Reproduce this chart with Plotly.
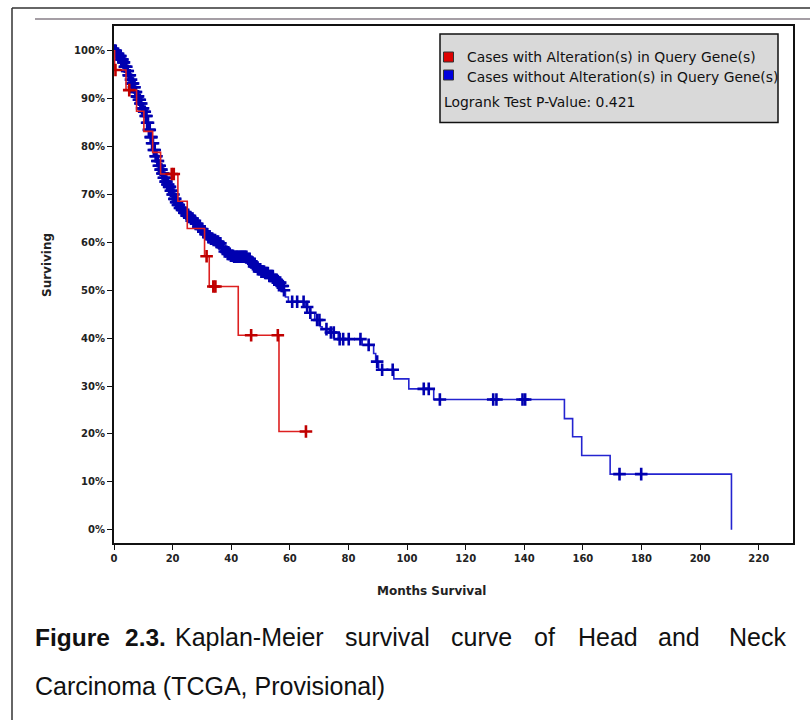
import plotly.graph_objects as go

# ---------------- data ----------------
# Cases with alteration(s): Kaplan-Meier step points (months, % surviving)
alt_times = [0.0, 0.2, 4.1, 7.7, 10.2, 13.2, 15.9, 21.8, 25.0, 30.9, 32.5, 42.4, 56.3]
alt_surv = [100.0, 96.0, 91.8, 87.4, 83.2, 78.8, 74.3, 68.6, 62.9, 57.1, 50.8, 40.6, 20.5]
alt_censor_times = [0.5, 5.2, 19.7, 20.4, 31.6, 33.9, 34.6, 46.8, 55.9, 65.5]

# Cases without alteration(s)
unalt_times = [0.0, 0.8, 1.5, 2.3, 3.0, 3.6, 4.3, 4.9, 5.5, 6.0, 6.6, 7.2, 7.7, 8.3, 8.9,
               9.5, 10.1, 10.6, 11.2, 11.7, 12.3, 12.9, 13.5, 14.0, 14.6, 15.2, 15.7, 16.3,
               16.9, 17.5, 18.1, 18.6, 19.2, 19.8, 20.4, 21.0, 21.6, 22.3, 23.0, 23.8, 24.6,
               25.4, 26.2, 27.0, 27.8, 28.6, 29.4, 30.3, 31.1, 31.9, 32.8, 33.7, 34.7, 35.7,
               36.5, 37.4, 38.5, 39.7, 41.0, 45.4, 46.5, 47.7, 48.8, 50.0, 51.5, 53.0, 54.5,
               55.7, 56.8, 57.8, 58.5, 59.5, 65.3, 66.8, 68.5, 70.4, 71.0, 73.5, 76.5, 84.7,
               88.6, 89.3, 90.3, 95.5, 100.6, 109.1, 153.7, 156.5, 159.6, 169.3, 210.7]
unalt_surv = [100.0, 99.4, 98.9, 98.2, 97.6, 96.7, 95.8, 94.9, 94.0, 93.2, 92.4, 91.4, 90.5,
              89.8, 89.0, 88.0, 87.3, 86.4, 85.0, 83.5, 82.0, 80.7, 79.3, 78.0, 77.0, 76.0,
              75.2, 74.4, 73.5, 72.7, 72.1, 71.6, 70.8, 70.0, 69.1, 68.4, 67.8, 67.2, 66.8,
              66.2, 65.6, 65.3, 65.0, 64.5, 63.9, 63.3, 62.8, 62.3, 61.7, 61.1, 60.8, 60.5,
              60.2, 59.8, 59.0, 58.1, 57.6, 57.2, 57.0, 56.6, 55.8, 55.0, 54.4, 53.9, 53.6,
              53.0, 52.2, 51.6, 50.9, 50.0, 48.6, 47.6, 46.5, 45.3, 43.8, 42.4, 41.9, 41.2,
              39.8, 38.6, 36.8, 35.1, 33.4, 31.5, 29.4, 27.2, 23.2, 19.4, 15.5, 11.6, 0.0]
unalt_censor_times = [0.1, 0.3, 0.6, 0.9, 1.2, 1.4, 1.7, 1.9, 2.2, 2.5, 2.7, 2.9, 3.2, 3.4,
                      3.7, 3.9, 4.2, 4.5, 4.7, 5.0, 5.2, 5.4, 5.8, 6.1, 6.3, 6.5, 6.8, 7.0,
                      7.3, 7.5, 7.8, 8.0, 8.2, 8.5, 8.8, 9.0, 9.3, 9.6, 9.9, 10.3, 10.5, 10.8,
                      11.1, 11.3, 11.6, 11.9, 12.2, 12.5, 12.8, 13.0, 13.3, 13.6, 13.9, 14.2,
                      14.5, 14.8, 15.0, 15.3, 15.6, 15.9, 16.2, 16.5, 16.8, 17.0, 17.3, 17.6,
                      17.9, 18.2, 18.5, 18.8, 19.1, 19.4, 19.7, 20.0, 20.3, 20.6, 20.9, 21.2,
                      21.5, 21.8, 22.1, 22.5, 22.8, 23.2, 23.6, 24.0, 24.4, 24.8, 25.2, 25.6,
                      26.0, 26.4, 26.8, 27.2, 27.6, 28.0, 28.4, 28.8, 29.2, 29.6, 30.0, 30.5,
                      30.9, 31.3, 31.8, 32.2, 32.6, 33.1, 33.5, 34.0, 34.5, 35.0, 35.5, 35.9,
                      36.3, 36.8, 37.3, 37.8, 38.3, 38.8, 39.2, 39.5, 39.9, 40.2, 40.6, 41.0,
                      41.4, 41.8, 42.1, 42.5, 42.9, 43.3, 43.7, 44.0, 44.4, 44.8, 45.2, 45.8,
                      46.3, 46.8, 47.3, 47.8, 48.2, 48.6, 49.1, 49.5, 49.9, 50.3, 50.8, 51.2,
                      51.6, 52.0, 52.5, 53.0, 53.4, 53.8, 54.2, 54.7, 55.1, 55.5, 55.9, 56.3,
                      56.7, 57.2, 57.6, 58.0, 60.8, 62.5, 64.7, 65.9, 67.0, 69.3, 70.1, 72.5,
                      74.0, 75.0, 77.0, 78.2, 80.1, 84.1, 86.9, 89.8, 91.5, 95.1, 105.7, 107.4,
                      111.2, 129.4, 130.5, 139.4, 140.3, 172.5, 179.9]

x_tick_values = [0, 20, 40, 60, 80, 100, 120, 140, 160, 180, 200, 220]
y_tick_values = [0, 10, 20, 30, 40, 50, 60, 70, 80, 90, 100]
y_tick_labels = ["0%", "10%", "20%", "30%", "40%", "50%", "60%", "70%", "80%", "90%", "100%"]
legend_labels = ["Cases with Alteration(s) in Query Gene(s)",
                 "Cases without Alteration(s) in Query Gene(s)"]
logrank_p = "0.421"
x_title = "Months Survival"
y_title = "Surviving"
caption_line1 = ["Figure", "2.3.", "Kaplan-Meier", "survival", "curve", "of", "Head", "and", "Neck"]
caption_line2 = "Carcinoma (TCGA, Provisional)"

# ---------------- helpers ----------------
def surv_at(t, times, surv):
    val = surv[0]
    for ti, si in zip(times, surv):
        if ti <= t:
            val = si
    return val

W, H = 810, 720
L, R, T, B = 114, 17, 26, 177
PW, PH = W - L - R, H - T - B

def px(x):
    return (x - L) / PW

def py(y):
    return (H - B - y) / PH

RED_LINE, RED_MARK = "#dd2020", "#c00000"
BLUE_LINE, BLUE_MARK = "#2424d0", "#0000b0"

fig = go.Figure()

# blue (without alteration)
fig.add_trace(go.Scatter(x=unalt_times, y=unalt_surv, mode="lines", line_shape="hv",
                         line=dict(color=BLUE_LINE, width=1.6), hoverinfo="skip"))
fig.add_trace(go.Scatter(x=unalt_censor_times,
                         y=[surv_at(t, unalt_times, unalt_surv) for t in unalt_censor_times],
                         mode="markers",
                         marker=dict(symbol="cross-thin", size=9,
                                     line=dict(color=BLUE_MARK, width=2.6)), hoverinfo="skip"))

# red (with alteration)
red_x = alt_times + [alt_censor_times[-1]]
red_y = alt_surv + [alt_surv[-1]]
fig.add_trace(go.Scatter(x=red_x, y=red_y, mode="lines", line_shape="hv",
                         line=dict(color=RED_LINE, width=1.6), hoverinfo="skip"))
fig.add_trace(go.Scatter(x=alt_censor_times,
                         y=[surv_at(t, alt_times, alt_surv) for t in alt_censor_times],
                         mode="markers",
                         marker=dict(symbol="cross-thin", size=9,
                                     line=dict(color=RED_MARK, width=2.6)), hoverinfo="skip"))

tickfont = dict(family="DejaVu Sans", size=10, color="#222222", weight="bold")

fig.update_layout(
    width=W, height=H,
    margin=dict(l=L, r=R, t=T, b=B, pad=0),
    paper_bgcolor="white", plot_bgcolor="white",
    showlegend=False,
    xaxis=dict(range=[0, 231.7], tickvals=x_tick_values, ticks="outside", ticklen=5,
               tickwidth=1, tickcolor="#111", showline=True, linecolor="#111", linewidth=2,
               mirror=True, showgrid=False, zeroline=False, tickfont=tickfont),
    yaxis=dict(range=[-2.78, 105.2], tickvals=y_tick_values, ticktext=y_tick_labels,
               ticks="outside", ticklen=5, tickwidth=1, tickcolor="#111", showline=True,
               linecolor="#111", linewidth=2, mirror=True, showgrid=False, zeroline=False,
               tickfont=tickfont),
)

shapes = []
# page frame lines
shapes.append(dict(type="line", xref="paper", yref="paper", x0=px(12), x1=px(810),
                   y0=py(8), y1=py(8), line=dict(color="#333", width=1.5)))
shapes.append(dict(type="line", xref="paper", yref="paper", x0=px(12), x1=px(12),
                   y0=py(8), y1=py(720), line=dict(color="#333", width=1.5)))
shapes.append(dict(type="line", xref="paper", yref="paper", x0=px(35), x1=px(810),
                   y0=py(19), y1=py(19), line=dict(color="#a59ea5", width=2)))
# legend box
shapes.append(dict(type="rect", xref="paper", yref="paper", x0=px(440), x1=px(778),
                   y0=py(122.5), y1=py(34), fillcolor="#d9d9d9",
                   line=dict(color="#111", width=1.5), layer="above"))
shapes.append(dict(type="rect", xref="paper", yref="paper", x0=px(443.5), x1=px(453.5),
                   y0=py(62), y1=py(52), fillcolor="#dd0000",
                   line=dict(color="#333", width=1), layer="above"))
shapes.append(dict(type="rect", xref="paper", yref="paper", x0=px(443.5), x1=px(453.5),
                   y0=py(80), y1=py(70), fillcolor="#0000dd",
                   line=dict(color="#333", width=1), layer="above"))
fig.update_layout(shapes=shapes)

legfont = dict(family="DejaVu Sans", size=13.9, color="#111")
ann = []
ann.append(dict(text=legend_labels[0], x=px(465), y=py(57.5), xanchor="left", yanchor="middle",
                font=legfont))
ann.append(dict(text=legend_labels[1], x=px(465), y=py(76.5), xanchor="left", yanchor="middle",
                font=legfont))
ann.append(dict(text="Logrank Test P-Value: " + logrank_p, x=px(441.5), y=py(102),
                xanchor="left", yanchor="middle", font=legfont))
# axis titles
titlefont = dict(family="DejaVu Sans", size=12, color="#222", weight="bold")
ann.append(dict(text=x_title, x=px(431), y=py(591), xanchor="center", yanchor="middle",
                font=titlefont))
ann.append(dict(text=y_title, x=px(47), y=py(265), xanchor="center", yanchor="middle",
                textangle=-90, font=titlefont))
# caption, justified first line
cap_x = [33, 123, 173, 343, 449, 532, 576, 656, 727]
for i, (word, xx) in enumerate(zip(caption_line1, cap_x)):
    f = dict(family="Liberation Sans", size=25, color="#111")
    if i < 2:
        f["weight"] = "bold"
        f["size"] = 24.5
    ann.append(dict(text=word, x=px(xx), y=py(637), xanchor="left", yanchor="middle", font=f))
ann.append(dict(text=caption_line2, x=px(33), y=py(686), xanchor="left", yanchor="middle",
                font=dict(family="Liberation Sans", size=25, color="#111")))
for a in ann:
    a.update(xref="paper", yref="paper", showarrow=False)
fig.update_layout(annotations=ann)

fig.write_html("out.html")
